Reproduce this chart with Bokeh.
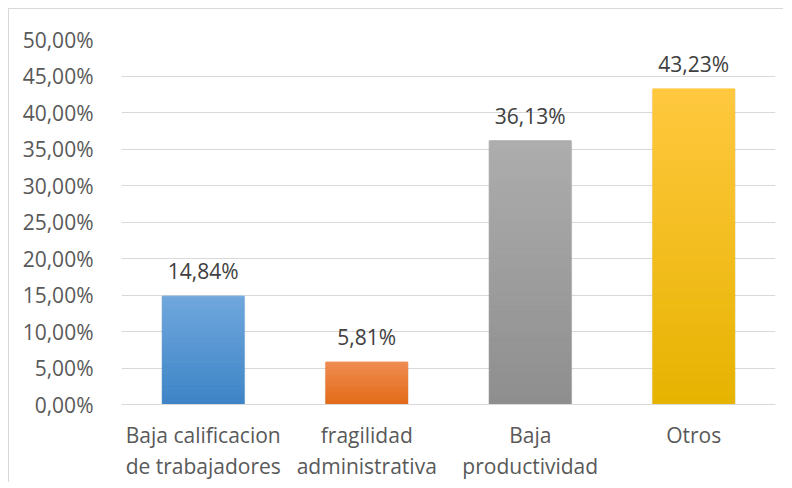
from bokeh.plotting import figure
from bokeh.models import FactorRange, Range1d, FixedTicker
from bokeh.core.properties import value
from bokeh.embed import file_html
from bokeh.resources import INLINE

# ---- data ----
categories = ["Baja calificacion\nde trabajadores", "fragilidad\nadministrativa",
              "Baja\nproductividad", "Otros"]
values = [14.84, 5.81, 36.13, 43.23]
value_labels = ["14,84%", "5,81%", "36,13%", "43,23%"]
y_ticks = [0, 5, 10, 15, 20, 25, 30, 35, 40, 45, 50]
y_tick_labels = ["0,00%", "5,00%", "10,00%", "15,00%", "20,00%", "25,00%",
                 "30,00%", "35,00%", "40,00%", "45,00%", "50,00%"]

# ---- style ----
top_colors = ["#70a7dd", "#f08c52", "#adadad", "#ffc83f"]
bottom_colors = ["#3d84c6", "#e26a17", "#8e8e8e", "#e6b300"]
FONT = "Open Sans"
FS = "21px"
N_BANDS = 40


def mix(c1, c2, t):
    a = [int(c1[i:i + 2], 16) for i in (1, 3, 5)]
    b = [int(c2[i:i + 2], 16) for i in (1, 3, 5)]
    return "#%02x%02x%02x" % tuple(round(a[j] * (1 - t) + b[j] * t) for j in range(3))


p = figure(x_range=FactorRange(*categories), y_range=Range1d(0, 50),
           frame_width=654, frame_height=365, output_backend="svg", toolbar_location=None,
           min_border_left=112, min_border_right=8, min_border_top=30,
           min_border_bottom=20)
p.styles = {"margin-left": "8px", "margin-top": "8px",
            "border-left": "1px solid #d9d9d9", "border-top": "1px solid #d9d9d9"}

# soft shadow
p.vbar(x=categories, top=values, bottom=0, width=0.515, fill_color="#000000",
       fill_alpha=0.07, line_color=None)

# gradient bars
bx, bb, bt, bc = [], [], [], []
for cat, v, ct, cb in zip(categories, values, top_colors, bottom_colors):
    for k in range(N_BANDS):
        bx.append(cat)
        bb.append(v * k / N_BANDS)
        bt.append(v * (k + 1) / N_BANDS)
        bc.append(mix(cb, ct, (k + 0.5) / N_BANDS))
p.vbar(x=bx, bottom=bb, top=bt, width=0.5, fill_color=bc, line_color=bc, line_width=1)

# data labels
p.text(x=categories, y=values, text=value_labels, text_align="center",
       text_baseline="middle", y_offset=-25, text_font=value(FONT),
       text_font_size=FS, text_color="#404040")

p.outline_line_color = None
p.background_fill_color = "white"
p.border_fill_color = "white"
p.xgrid.grid_line_color = None
p.ygrid.grid_line_color = "#d9d9d9"
p.ygrid.grid_line_width = 1

p.yaxis.ticker = FixedTicker(ticks=y_ticks)
p.yaxis.major_label_overrides = dict(zip(y_ticks, y_tick_labels))
p.yaxis.axis_line_color = None
p.yaxis.major_tick_line_color = None
p.yaxis.minor_tick_line_color = None
p.yaxis.major_label_standoff = 22
p.yaxis.major_label_text_font = FONT
p.yaxis.major_label_text_font_size = FS
p.yaxis.major_label_text_color = "#595959"

p.xaxis.axis_line_color = "#d9d9d9"
p.xaxis.axis_line_width = 1
p.xaxis.major_tick_line_color = None
p.xaxis.minor_tick_line_color = None
p.xaxis.major_label_standoff = 10
p.xaxis.major_label_text_font = FONT
p.xaxis.major_label_text_font_size = FS
p.xaxis.major_label_text_color = "#595959"
p.xaxis.major_label_text_line_height = 1.12
p.xaxis.major_label_orientation = "horizontal"

open("out.html", "w").write(file_html(p, INLINE))
